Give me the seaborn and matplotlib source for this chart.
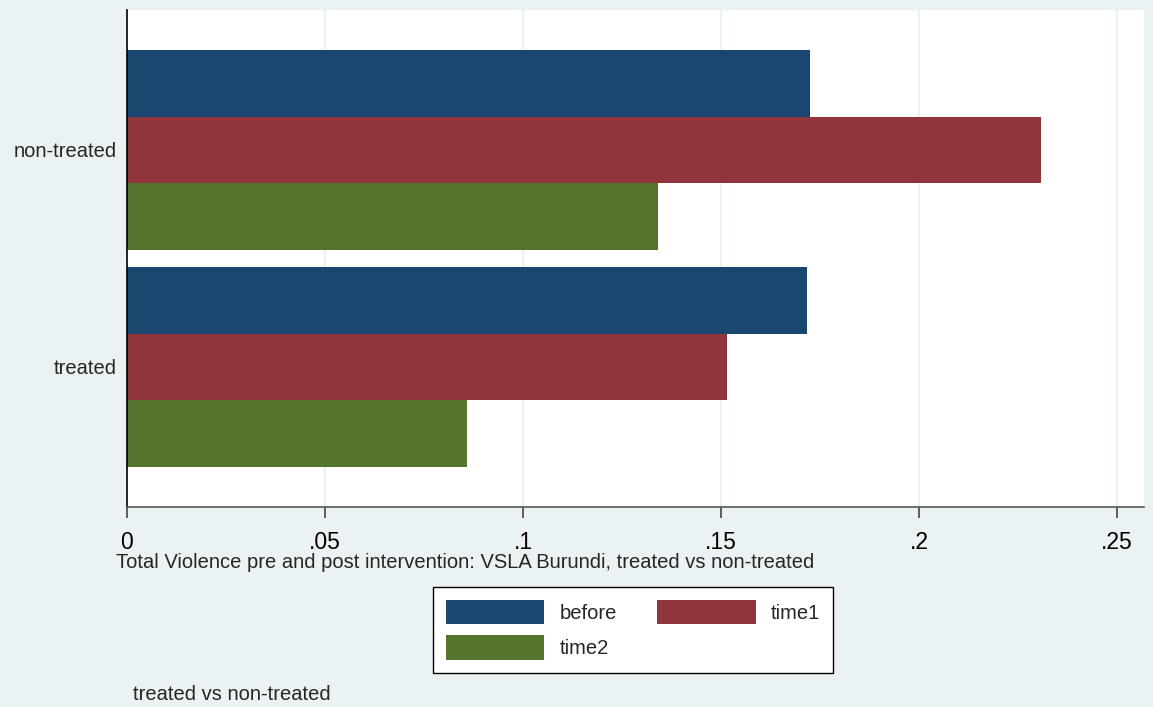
import pandas as pd
import matplotlib.pyplot as plt
import seaborn as sns

# values
groups = ['non-treated', 'treated']
periods = ['before', 'time1', 'time2']
before = [0.1725, 0.1717]
time1 = [0.2308, 0.1515]
time2 = [0.1341, 0.0859]
tick_vals = [0, 0.05, 0.1, 0.15, 0.2, 0.25]
tick_labels = ['0', '.05', '.1', '.15', '.2', '.25']

colors = ['#1a476f', '#90353b', '#55752f']
bg = '#eaf2f3'

df = pd.DataFrame({
    'group': groups * 3,
    'period': [p for p in periods for _ in groups],
    'value': before + time1 + time2,
})

sns.set_style('white')
plt.rcParams['font.family'] = ['Liberation Sans', 'DejaVu Sans']
plt.rcParams['xtick.bottom'] = True
plt.rcParams['xtick.major.size'] = 8
plt.rcParams['xtick.major.width'] = 1.2
plt.rcParams['xtick.color'] = '#444444'
plt.rcParams['xtick.labelcolor'] = 'black'

fig = plt.figure(figsize=(11.53, 7.07), dpi=100, facecolor=bg)
ax = fig.add_axes([0.1101, 0.2829, 0.8821, 0.7030])
ax.set_facecolor('white')

sns.barplot(data=df, y='group', x='value', hue='period', order=groups,
            hue_order=periods, palette=colors, orient='h', width=0.92,
            gap=0, saturation=1, linewidth=0, errorbar=None, ax=ax)

ax.set_xlim(0, 0.2568)
ax.set_ylim(1.645, -0.645)
ax.set_xticks(tick_vals)
ax.set_xticklabels(tick_labels, fontsize=16.5)
ax.tick_params(axis='x', bottom=True, direction='out', length=8, width=1.2,
               color='#444444', pad=9)
ax.tick_params(axis='y', left=False, length=0, labelsize=14.5, pad=7)
ax.set_xlabel('')
ax.set_ylabel('')
ax.set_axisbelow(True)
ax.xaxis.grid(True, color=bg, linewidth=1.5)

for s in ['top', 'right']:
    ax.spines[s].set_visible(False)
ax.spines['left'].set_color('black')
ax.spines['left'].set_linewidth(1.2)
ax.spines['bottom'].set_color('#555555')
ax.spines['bottom'].set_linewidth(1.2)

ax.get_legend().remove()
handles, labels = ax.get_legend_handles_labels()
# row-major order for the 2-column legend: before, time1 / time2
idx = [0, 2, 1]
leg = fig.legend([handles[i] for i in idx], [labels[i] for i in idx],
                 loc='center', bbox_to_anchor=(0.549, 0.109),
                 ncol=2, fontsize=14.5, frameon=True, fancybox=False,
                 edgecolor='black', facecolor='white', framealpha=1,
                 handlelength=4.9, handleheight=1.5, handletextpad=0.75,
                 columnspacing=2.0, labelspacing=0.55, borderpad=0.65)
leg.get_frame().set_linewidth(1)

fig.text(116 / 1153, 1 - 562 / 707, 'Total Violence pre and post intervention: VSLA Burundi, treated vs non-treated',
         fontsize=14.5, ha='left', va='center')
fig.text(133 / 1153, 1 - 695 / 707, 'treated vs non-treated', fontsize=14.5, ha='left', va='center')

plt.savefig('out.png', dpi=100, facecolor=bg)
